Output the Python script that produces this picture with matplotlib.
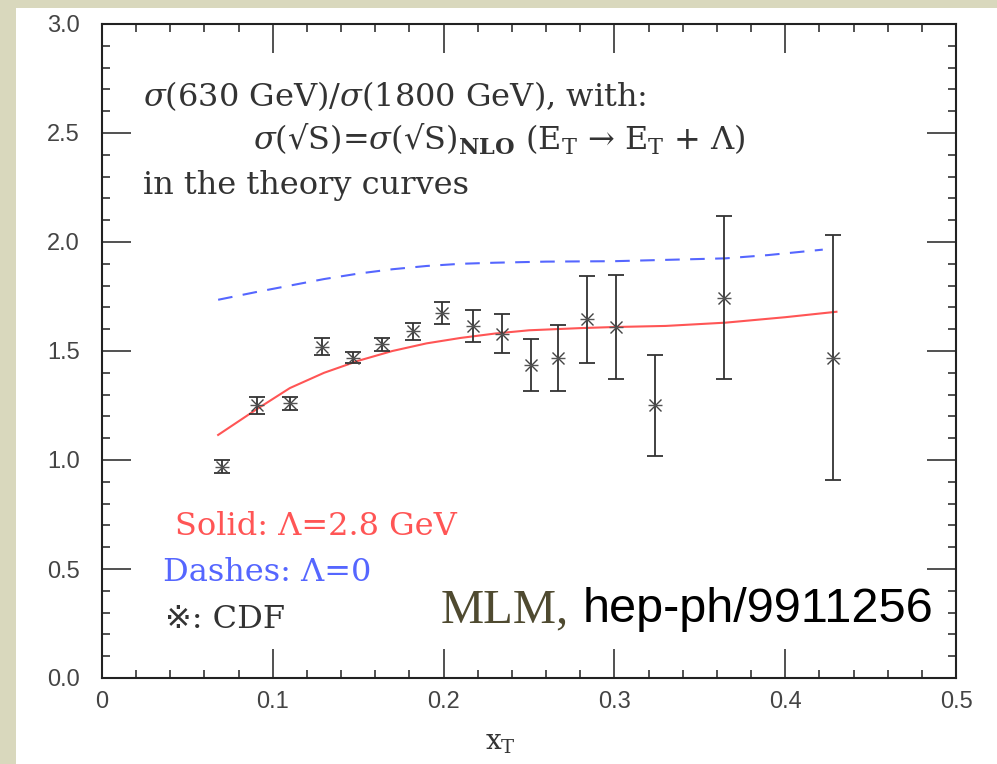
import matplotlib
matplotlib.use("Agg")
import matplotlib.pyplot as plt
from matplotlib.patches import Rectangle
from matplotlib.ticker import MultipleLocator

# ---- data ----
cdf_x = [0.070, 0.091, 0.110, 0.129, 0.147, 0.164, 0.182, 0.199, 0.217, 0.234,
         0.251, 0.267, 0.284, 0.301, 0.324, 0.364, 0.428]
cdf_y = [0.97, 1.25, 1.26, 1.52, 1.47, 1.53, 1.59, 1.675, 1.615, 1.58,
         1.435, 1.467, 1.645, 1.61, 1.25, 1.745, 1.47]
cdf_err = [0.03, 0.04, 0.03, 0.04, 0.025, 0.03, 0.04, 0.05, 0.075, 0.09,
           0.12, 0.15, 0.20, 0.24, 0.23, 0.375, 0.56]

solid_x = [0.068, 0.09, 0.11, 0.13, 0.15, 0.17, 0.19, 0.21, 0.23, 0.25, 0.28,
           0.30, 0.33, 0.365, 0.40, 0.43]
solid_y = [1.115, 1.23, 1.33, 1.40, 1.455, 1.50, 1.535, 1.56, 1.58, 1.595, 1.605,
           1.61, 1.615, 1.63, 1.655, 1.68]

dash_x = [0.068, 0.09, 0.11, 0.13, 0.15, 0.17, 0.19, 0.21, 0.23, 0.26, 0.30,
          0.34, 0.365, 0.39, 0.422]
dash_y = [1.735, 1.77, 1.80, 1.83, 1.855, 1.875, 1.89, 1.90, 1.905, 1.91, 1.912,
          1.92, 1.925, 1.94, 1.965]

xticks = [0, 0.1, 0.2, 0.3, 0.4, 0.5]
xticklabels = ["0", "0.1", "0.2", "0.3", "0.4", "0.5"]
yticks = [0.0, 0.5, 1.0, 1.5, 2.0, 2.5, 3.0]
yticklabels = ["0.0", "0.5", "1.0", "1.5", "2.0", "2.5", "3.0"]

plt.rcParams['mathtext.fontset'] = 'dejavuserif'

fig = plt.figure(figsize=(9.97, 7.64), dpi=100)
fig.patch.set_facecolor('#d9d8bd')
fig.patches.append(Rectangle((16/997, 0), 1 - 16/997, 1 - 8/764,
                             transform=fig.transFigure, facecolor='white',
                             edgecolor='none', zorder=-10))

ax = fig.add_axes([102/997, 1 - 678/764, (956 - 102)/997, (678 - 24)/764])
ax.set_zorder(5)
ax.set_facecolor('white')
ax.set_xlim(0, 0.5)
ax.set_ylim(0, 3.0)

red = '#ff5555'
blue = '#5566ff'

ax.plot(solid_x, solid_y, color=red, lw=1.5, zorder=3)
ax.plot(dash_x, dash_y, color=blue, lw=1.5, dashes=(7, 5), zorder=3)
ax.errorbar(cdf_x, cdf_y, yerr=cdf_err, fmt='none', ecolor='#333333',
            elinewidth=1.3, capsize=5.5, capthick=1.3, zorder=4)
ax.plot(cdf_x, cdf_y, linestyle='none', marker='x', markersize=8,
        markeredgewidth=1.0, color='#444444', zorder=5)
ax.plot(cdf_x, cdf_y, linestyle='none', marker='_', markersize=10,
        markeredgewidth=1.0, color='#555555', zorder=5)

ax.set_xticks(xticks)
ax.set_xticklabels(xticklabels)
ax.set_yticks(yticks)
ax.set_yticklabels(yticklabels)
ax.xaxis.set_minor_locator(MultipleLocator(0.02))
ax.yaxis.set_minor_locator(MultipleLocator(0.1))
ax.tick_params(which='both', direction='in', top=True, right=True,
               color='#333333', width=1.2)
ax.tick_params(which='major', length=21)
ax.tick_params(which='minor', length=6)
ax.tick_params(axis='y', which='major', pad=16)
ax.tick_params(axis='x', which='major', pad=9)
for lab in ax.get_xticklabels() + ax.get_yticklabels():
    lab.set_family('Liberation Sans')
    lab.set_fontsize(17)
    lab.set_color('#444444')
for s in ax.spines.values():
    s.set_linewidth(1.5)
    s.set_color('#222222')

ax.set_xlabel(r'x$_{\mathrm{T}}$', family='DejaVu Serif', fontsize=20,
              color='#333333')
ax.xaxis.set_label_coords((500 - 102) / 854, -(743 - 678) / 654)
ax.xaxis.label.set_va('center')

serif = ['DejaVu Serif', 'DejaVu Sans', 'Noto Sans CJK JP']
tc = '#333333'
fs = 23
ax.text(0.024, 2.67, r'$\sigma$(630 GeV)/$\sigma$(1800 GeV), with:',
        family=serif, fontsize=fs, color=tc, va='center', ha='left')
ax.text(0.0884, 2.47,
        r'$\sigma$(√S)=$\sigma$(√S)$_{\mathbf{NLO}}$ (E$_{\mathrm{T}}$ → E$_{\mathrm{T}}$ + Λ)',
        family=serif, fontsize=fs, color=tc, va='center', ha='left')
ax.text(0.024, 2.26, 'in the theory curves',
        family=serif, fontsize=fs, color=tc, va='center', ha='left')

ax.text(0.0427, 0.693, 'Solid: Λ=2.8 GeV', family=serif, fontsize=fs,
        color=red, va='center', ha='left')
ax.text(0.0357, 0.482, 'Dashes: Λ=0', family=serif, fontsize=fs,
        color=blue, va='center', ha='left')
ax.text(0.037, 0.27, '※: CDF', family=serif, fontsize=fs,
        color=tc, va='center', ha='left')

ax.text(0.198, 0.312, 'MLM,', family='Liberation Serif', fontsize=35,
        color='#4f4a30', va='center', ha='left')
ax.text(0.2816, 0.312, 'hep-ph/9911256', family='Liberation Sans', fontsize=35,
        color='black', va='center', ha='left')

fig.savefig('out.png', dpi=100)
